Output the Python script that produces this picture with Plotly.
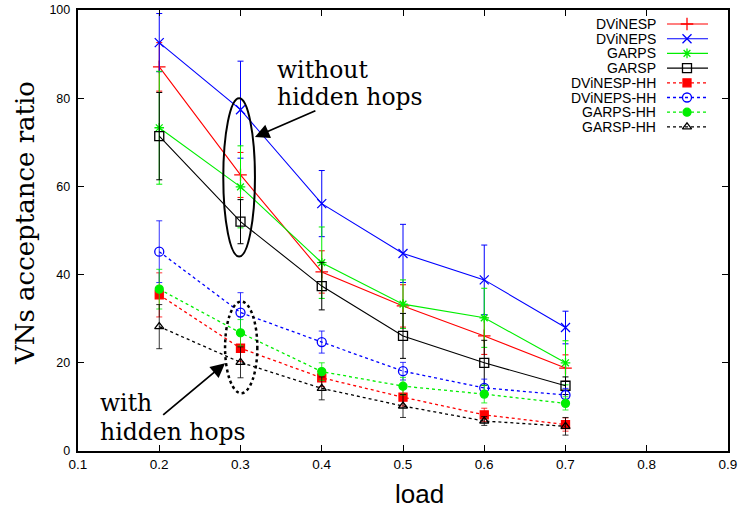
import plotly.graph_objects as go

load = [0.2, 0.3, 0.4, 0.5, 0.6, 0.7]

names = ["DViNESP", "DViNEPS", "GARPS", "GARSP",
         "DViNESP-HH", "DViNEPS-HH", "GARPS-HH", "GARSP-HH"]

dvinesp = [87.1, 62.6, 40.6, 32.9, 26.1, 18.8]
dvinesp_err = [5.5, 5.1, 4.8, 4.8, 4.2, 3.0]
dvineps = [92.6, 77.4, 56.1, 44.8, 38.8, 28.0]
dvineps_err = [6.6, 11.0, 7.5, 6.6, 7.9, 3.7]
garps = [73.3, 59.9, 42.7, 33.3, 30.2, 20.0]
garps_err = [12.8, 9.3, 8.1, 5.5, 6.7, 5.0]
garsp = [71.4, 52.0, 37.4, 26.1, 20.0, 14.8]
garsp_err = [9.9, 5.0, 5.4, 5.1, 5.1, 2.0]
dvinesp_hh = [35.4, 23.3, 16.6, 12.2, 8.2, 6.0]
dvinesp_hh_err = [5.0, 3.0, 2.0, 2.0, 1.5, 1.5]
dvineps_hh = [45.2, 31.4, 24.7, 18.1, 14.3, 12.7]
dvineps_hh_err = [7.0, 4.5, 2.5, 2.0, 2.0, 1.5]
garps_hh = [36.7, 26.8, 18.0, 14.7, 12.9, 10.8]
garps_hh_err = [4.5, 3.0, 2.0, 2.0, 2.0, 1.5]
garsp_hh = [28.2, 20.1, 14.2, 10.2, 6.8, 5.6]
garsp_hh_err = [5.0, 3.5, 2.6, 2.6, 1.0, 2.0]

values = [dvinesp, dvineps, garps, garsp, dvinesp_hh, dvineps_hh, garps_hh, garsp_hh]
errors = [dvinesp_err, dvineps_err, garps_err, garsp_err,
          dvinesp_hh_err, dvineps_hh_err, garps_hh_err, garsp_hh_err]
colors = ["#ff0000", "#0000ff", "#00ee00", "#000000",
          "#ff0000", "#0000ff", "#00ee00", "#000000"]
symbols = ["cross-thin", "x-thin", "asterisk", "square-open",
           "square", "circle-open", "circle", "triangle-up-open"]
sizes = [9, 9, 8, 9, 8, 9, 8, 8]
dashes = ["solid"] * 4 + ["dot"] * 4

fig = go.Figure()
for name, v, e, c, s, sz, d in zip(names, values, errors, colors, symbols, sizes, dashes):
    fig.add_trace(go.Scatter(
        x=load, y=v, mode="lines+markers", name=name, showlegend=False,
        line=dict(color=c, width=1.1 if d == "solid" else 1.3, dash=d),
        marker=dict(symbol=s, size=sz, color=c, line=dict(color=c, width=1.3)),
        error_y=dict(type="data", array=e, visible=True, color=c,
                     thickness=1 if d == "solid" else 0.8, width=3),
    ))

# custom gnuplot-style legend (text right, sample left) on an overlay pixel axis
row0, rowstep = 14.0, 14.7
for i, (name, c, s, sz, d) in enumerate(zip(names, colors, symbols, sizes, dashes)):
    yy = row0 + rowstep * i
    fig.add_trace(go.Scatter(
        x=[589, 609, 630], y=[yy, yy, yy], xaxis="x2", yaxis="y2",
        mode="lines", showlegend=False, hoverinfo="skip",
        line=dict(color=c, width=1.1 if d == "solid" else 1.3, dash=d),
    ))
    fig.add_trace(go.Scatter(
        x=[609], y=[yy], xaxis="x2", yaxis="y2", mode="markers",
        showlegend=False, hoverinfo="skip",
        marker=dict(symbol=s, size=sz, color=c, line=dict(color=c, width=1.3)),
    ))
    fig.add_annotation(x=579, y=yy, xref="x2", yref="y2", text=name,
                       showarrow=False, xanchor="right", yanchor="middle",
                       height=14, borderpad=0,
                       font=dict(family="Liberation Sans", size=14, color="black"))

serif = dict(family="DejaVu Serif", size=23.5, color="black")
fig.add_annotation(x=0.342, y=(451 - 70) / 4.41, xref="x", yref="y", text="without",
                   showarrow=False, xanchor="left", yanchor="middle", font=serif)
fig.add_annotation(x=0.342, y=(451 - 97) / 4.41, xref="x", yref="y", text="hidden hops",
                   showarrow=False, xanchor="left", yanchor="middle", font=serif)
fig.add_annotation(x=0.124, y=(451 - 403) / 4.41, xref="x", yref="y", text="with",
                   showarrow=False, xanchor="left", yanchor="middle", font=serif)
fig.add_annotation(x=0.124, y=(451 - 432) / 4.41, xref="x", yref="y", text="hidden hops",
                   showarrow=False, xanchor="left", yanchor="middle", font=serif)

# axis titles
fig.add_annotation(x=-0.0815, y=0.517, xref="paper", yref="paper",
                   text="VNs acceptance ratio", textangle=-90, showarrow=False,
                   xanchor="center", yanchor="middle",
                   font=dict(family="DejaVu Serif", size=26, color="black"))
fig.add_annotation(x=0.526, y=-0.0975, xref="paper", yref="paper",
                   text="load", showarrow=False, xanchor="center", yanchor="middle",
                   font=dict(family="Liberation Sans", size=26, color="black"))

# arrows
fig.add_annotation(x=0.3178, y=71.2, ax=0.394, ay=77.3, xref="x", yref="y",
                   axref="x", ayref="y", text="", showarrow=True,
                   arrowhead=2, arrowsize=1.6, arrowwidth=1.8, arrowcolor="black")
fig.add_annotation(x=0.281, y=19.9, ax=0.203, ay=7.9, xref="x", yref="y",
                   axref="x", ayref="y", text="", showarrow=True,
                   arrowhead=2, arrowsize=1.6, arrowwidth=1.8, arrowcolor="black")

# ellipses
fig.add_shape(type="circle", xref="x", yref="y", x0=0.2788, x1=0.3178, y0=44.1, y1=80.0,
              line=dict(color="black", width=2))
fig.add_shape(type="circle", xref="x", yref="y", x0=0.281, x1=0.3207, y0=13.1, y1=33.9,
              line=dict(color="black", width=2.5, dash="dot"))

fig.update_layout(
    width=740, height=511,
    margin=dict(l=78, r=12, t=10, b=60),
    plot_bgcolor="white", paper_bgcolor="white",
    xaxis=dict(range=[0.1, 0.9], dtick=0.1, tick0=0.1, tickformat=".1f", automargin=False,
               showline=True, mirror="allticks", linecolor="black", linewidth=1.5,
               ticks="inside", ticklen=6, tickcolor="black", showgrid=False, zeroline=False,
               tickfont=dict(family="Liberation Sans", size=13.5, color="black")),
    yaxis=dict(range=[0, 100], dtick=20, automargin=False, ticksuffix="\u00a0",
               showline=True, mirror="allticks", linecolor="black", linewidth=1.5,
               ticks="inside", ticklen=6, tickcolor="black", showgrid=False, zeroline=False,
               tickfont=dict(family="Liberation Sans", size=12.5, color="black")),
    xaxis2=dict(range=[0, 650], overlaying="x", visible=False, fixedrange=True,
                automargin=False),
    yaxis2=dict(range=[441, 0], overlaying="y", visible=False, fixedrange=True,
                automargin=False),
    showlegend=False,
)

fig.write_html("out.html")
